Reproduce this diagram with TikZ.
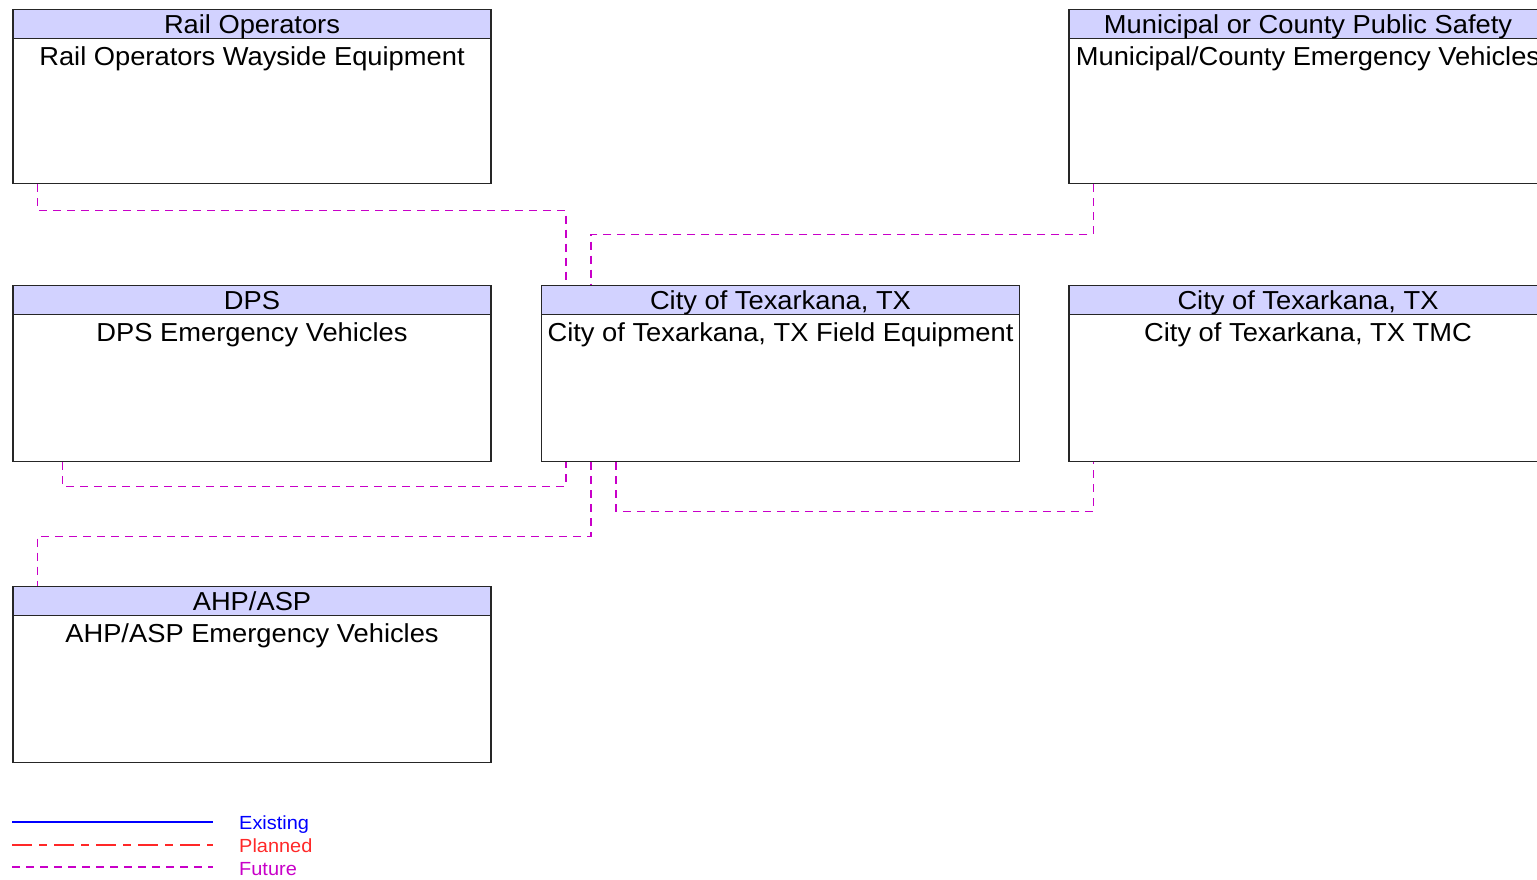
\documentclass[tikz,border=0pt]{standalone}
\usepackage{fontspec}
\setmainfont{Liberation Sans}[FakeStretch=1.05]
\usetikzlibrary{positioning}
\definecolor{headfill}{RGB}{210,210,255}
\definecolor{futurecol}{RGB}{200,0,200}
\definecolor{plannedcol}{RGB}{255,40,40}
\definecolor{existcol}{RGB}{0,0,255}

\begin{document}
\begin{tikzpicture}[x=1pt, y=-1pt,
    sysbox/.style={draw=black!85, line width=1.2pt, minimum width=478pt, minimum height=176pt, inner sep=0pt, anchor=north},
    syshead/.style={draw=black!85, line width=1.2pt, fill=headfill, minimum width=478pt, minimum height=29pt, inner sep=0pt, text height=19pt, text depth=0pt, anchor=north, font=\fontsize{26}{30}\selectfont},
    systext/.style={anchor=base, inner sep=0pt, font=\fontsize{26}{30}\selectfont},
    future/.style={futurecol, line width=1.2pt, dash pattern=on 8pt off 6pt},
    planned/.style={plannedcol, line width=1.2pt, dash pattern=on 20pt off 7pt on 8pt off 7pt},
    existing/.style={existcol, line width=1.2pt},
    legtext/.style={anchor=base west, inner sep=0pt, font=\fontsize{19}{22}\selectfont}]
    \useasboundingbox (0,0) rectangle (1537,879);
    \clip (0,0) rectangle (1537,879);

    % systems
    \node[sysbox, minimum height=174pt] (rail) at (252,9) {};
    \node[syshead] (railh) at (rail.north) {Rail Operators};
    \node[systext] (railt) at ([yshift=-26pt]railh.south) {Rail Operators Wayside Equipment};

    \node[sysbox, minimum height=174pt] (muni) at (1308,9) {};
    \node[syshead] (munih) at (muni.north) {Municipal or County Public Safety};
    \node[systext] (munit) at ([yshift=-26pt]munih.south) {Municipal/County Emergency Vehicles};

    \node[sysbox] (dps) at (252,285) {};
    \node[syshead] (dpsh) at (dps.north) {DPS};
    \node[systext] (dpst) at ([yshift=-26pt]dpsh.south) {DPS Emergency Vehicles};

    \node[sysbox] (field) at (780.5,285) {};
    \node[syshead] (fieldh) at (field.north) {City of Texarkana, TX};
    \node[systext] (fieldt) at ([yshift=-26pt]fieldh.south) {City of Texarkana, TX Field Equipment};

    \node[sysbox] (tmc) at (1308,285) {};
    \node[syshead] (tmch) at (tmc.north) {City of Texarkana, TX};
    \node[systext] (tmct) at ([yshift=-26pt]tmch.south) {City of Texarkana, TX TMC};

    \node[sysbox] (ahp) at (252,586) {};
    \node[syshead] (ahph) at (ahp.north) {AHP/ASP};
    \node[systext] (ahpt) at ([yshift=-26pt]ahph.south) {AHP/ASP Emergency Vehicles};

    % flows
    \draw[future] ([xshift=25pt]rail.south west) -- ++(0,26) -| ([xshift=25pt]field.north west);
    \draw[future] ([xshift=25pt]muni.south west) -- ++(0,50) -| ([xshift=50pt]field.north west);
    \draw[future] ([xshift=50pt]dps.south west) -- ++(0,24) -| ([xshift=25pt]field.south west);
    \draw[future] ([xshift=50pt]field.south west) -- ++(0,74) -| ([xshift=25pt]ahp.north west);
    \draw[future] ([xshift=75pt]field.south west) -- ++(0,49) -| ([xshift=25pt]tmc.south west);

    % legend
    \coordinate (exA) at (12,822);
    \coordinate (exB) at (213,822);
    \coordinate (plA) at (12,845);
    \coordinate (plB) at (213,845);
    \coordinate (fuA) at (12,867);
    \coordinate (fuB) at (213,867);
    \draw[existing] (exA) -- (exB);
    \draw[planned] (plA) -- (plB);
    \draw[future] (fuA) -- (fuB);
    \node[legtext, text=existcol] (exlab) at (239,829) {Existing};
    \node[legtext, text=plannedcol] (pllab) at (239,852) {Planned};
    \node[legtext, text=futurecol] (fulab) at (239,875) {Future};
\end{tikzpicture}
\end{document}
